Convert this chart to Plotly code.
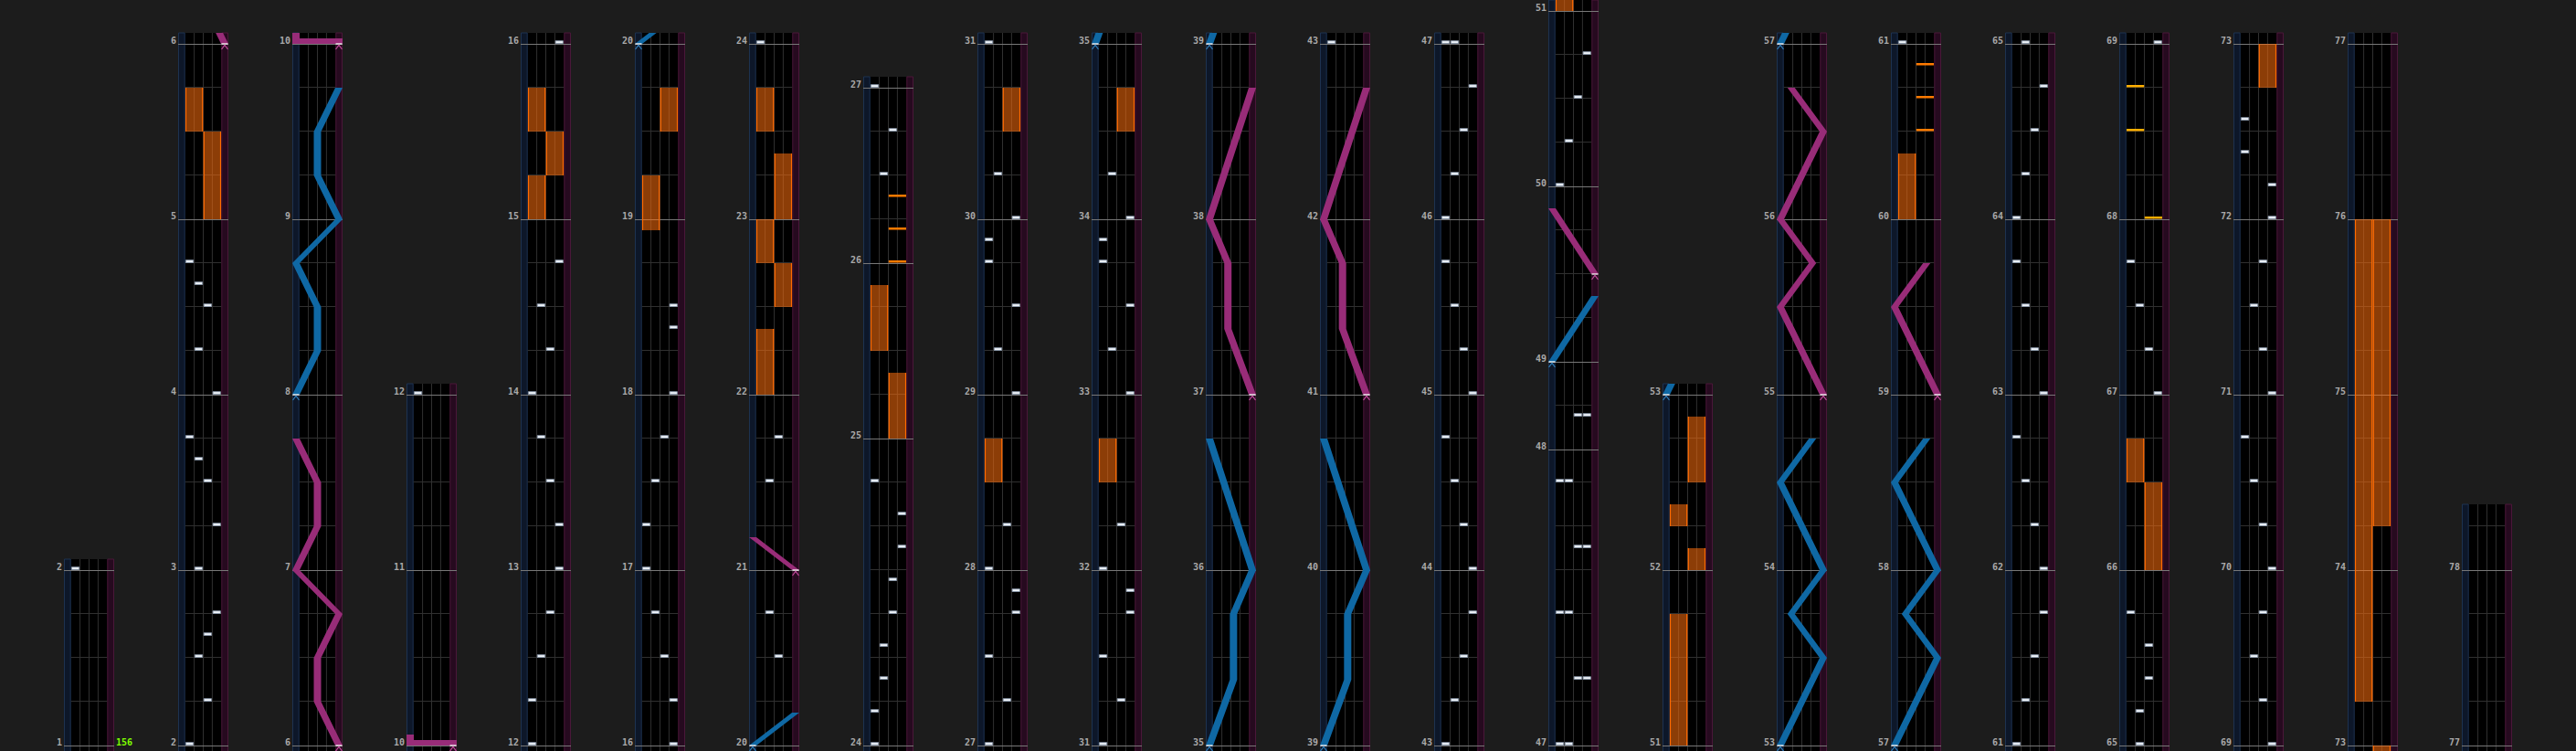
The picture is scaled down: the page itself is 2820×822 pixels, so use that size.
import plotly.graph_objects as go

# ---------------- data ----------------
MEASURE_BEATS = {24: 7, 47: 6.75, 48: 2}          # non-4/4 measures (length in beats)
COL_FIRST = [1, 2, 6, 10, 12, 16, 20, 24, 27, 31, 35, 39, 43, 47, 51, 53, 57, 61, 65, 69, 73, 77]
COL_END   = [2, 6, 10, 12, 16, 20, 24, 27, 31, 35, 39, 43, 47, 51, 53, 57, 61, 65, 69, 73, 77, 78]
LAST_TAIL_BEATS = 1.5

BPM_MEASURES = [1]
BPM_LABELS = ['156']

# (measure, beat within measure, lane 0..3)
BT_NOTES = [
    (2, 0, 0), (2, 1, 2), (2, 2, 1), (2, 2.5, 2), (2, 3, 3),
    (3, 0, 1), (3, 1, 3), (3, 2, 2), (3, 2.5, 1), (3, 3, 0),
    (4, 0, 3), (4, 1, 1), (4, 2, 2), (4, 2.5, 1), (4, 3, 0),
    (12, 0, 0), (12, 1, 0), (12, 2, 1), (12, 3, 2),
    (13, 0, 3), (13, 1, 3), (13, 2, 2), (13, 3, 1),
    (14, 0, 0), (14, 1, 2), (14, 2, 1), (14, 3, 3),
    (16, 0, 3), (16, 1, 3), (16, 2, 2), (16, 3, 1),
    (17, 0, 0), (17, 1, 0), (17, 2, 1), (17, 3, 2),
    (18, 0, 3), (18, 1.5, 3), (18, 2, 3),
    (20, 2, 2), (20, 3, 1), (21, 2, 1), (21, 3, 2),
    (24, 0, 0), (24, 0.75, 0), (24, 1.5, 1), (24, 2.25, 1), (24, 3, 2), (24, 3.75, 2),
    (24, 4.5, 3), (24, 5.25, 3), (24, 6, 0),
    (26, 2, 1), (26, 3, 2),
    (27, 0, 0), (27, 1, 2), (27, 2, 0), (27, 3, 3), (27, 3.5, 3),
    (28, 0, 0), (28, 1, 2),
    (29, 0, 3), (29, 1, 1), (29, 2, 3), (29, 3, 0), (29, 3.5, 0),
    (30, 0, 3), (30, 1, 1),
    (31, 0, 0), (31, 1, 2), (31, 2, 0), (31, 3, 3), (31, 3.5, 3),
    (32, 0, 0), (32, 1, 2),
    (33, 0, 3), (33, 1, 1), (33, 2, 3), (33, 3, 0), (33, 3.5, 0),
    (34, 0, 3), (34, 1, 1),
    (43, 0, 0), (43, 1, 1), (43, 2, 2), (43, 3, 3),
    (44, 0, 3), (44, 1, 2), (44, 2, 1), (44, 3, 0),
    (45, 0, 3), (45, 1, 2), (45, 2, 1), (45, 3, 0),
    (46, 0, 0), (46, 1, 1), (46, 2, 2), (46, 3, 3),
    (47, 0, 0), (47, 0, 1), (47, 1.5, 2), (47, 1.5, 3), (47, 3, 0), (47, 3, 1),
    (47, 4.5, 2), (47, 4.5, 3), (47, 6, 0), (47, 6, 1),
    (48, 0.75, 2), (48, 0.75, 3),
    (50, 0, 0), (50, 1, 1), (50, 2, 2), (50, 3, 3),
    (61, 0, 0), (61, 1, 1), (61, 2, 2), (61, 3, 3),
    (62, 0, 3), (62, 1, 2), (62, 2, 1), (62, 3, 0),
    (63, 0, 3), (63, 1, 2), (63, 2, 1), (63, 3, 0),
    (64, 0, 0), (64, 1, 1), (64, 2, 2), (64, 3, 3),
    (65, 0, 1), (65, 0.75, 1), (65, 1.5, 2), (65, 2.25, 2), (65, 3, 0),
    (67, 0, 3), (67, 1, 2), (67, 2, 1), (67, 3, 0),
    (69, 0, 3), (69, 1, 2), (69, 2, 1), (69, 3, 2),
    (70, 0, 3), (70, 1, 2), (70, 2, 1), (70, 3, 0),
    (71, 0, 3), (71, 1, 2), (71, 2, 1), (71, 3, 2),
    (72, 0, 3), (72, 0.75, 3), (72, 1.5, 0), (72, 2.25, 0),
]

# FX chips: (measure, beat, side 0=L 1=R)
FX_CHIPS = [(26, 0, 1), (26, 0.75, 1), (26, 1.5, 1), (60, 2, 1), (60, 2.75, 1), (60, 3.5, 1)]
FX_CHIPS_SE = [(68, 0, 1), (68, 2, 0), (68, 3, 0)]

# FX holds: (side, start measure, start beat, end measure, end beat)
FX_HOLDS = [
    (0, 5, 2, 5, 3), (1, 5, 0, 5, 2),
    (0, 15, 0, 15, 1), (1, 15, 1, 15, 2), (0, 15, 2, 15, 3),
    (0, 18, 3.75, 19, 1), (1, 19, 2, 19, 3),
    (0, 22, 0, 22, 1.5), (1, 22, 2, 22, 3), (0, 22, 3, 23, 0), (1, 23, 0, 23, 1.5), (0, 23, 2, 23, 3),
    (1, 25, 0, 25, 1.5), (0, 25, 2, 25, 3.5),
    (0, 28, 2, 28, 3), (1, 30, 2, 30, 3),
    (0, 32, 2, 32, 3), (1, 34, 2, 34, 3),
    (0, 51, 0, 51, 3), (1, 52, 0, 52, 0.5), (0, 52, 1, 52, 1.5), (1, 52, 2, 52, 3.5),
    (0, 60, 0, 60, 1.5),
    (1, 66, 0, 66, 2), (0, 66, 2, 66, 3),
    (1, 72, 3, 73, 0), (0, 73, 1, 76, 0), (1, 74, 1, 76, 0),
]

# lasers: list of (measure, beat, position 0..1)
LASERS_LEFT = [
    [(8, 0, 0), (8, 1, 0.5), (8, 2, 0.5), (8, 3, 0), (9, 0, 1), (9, 1, 0.5), (9, 2, 0.5), (9, 3, 1)],
    [(20, 0, 0), (20, 0.75, 1)],
    [(35, 0, 0), (35, 1.5, 0.56), (35, 3, 0.56), (36, 0, 1), (36, 3, 0)],
    [(39, 0, 0), (39, 1.5, 0.56), (39, 3, 0.56), (40, 0, 1), (40, 3, 0)],
    [(49, 0, 0), (49, 1.5, 1)],
    [(53, 0, 0), (53, 2, 1), (53, 3, 0.25), (54, 0, 1), (54, 2, 0), (54, 3, 0.75)],
    [(57, 0, 0), (57, 2, 1), (57, 3, 0.25), (58, 0, 1), (58, 2, 0), (58, 3, 0.75)],
]
LASERS_RIGHT = [
    [(6, 0, 1), (6, 1, 0.5), (6, 2, 0.5), (6, 3, 1), (7, 0, 0), (7, 1, 0.5), (7, 2, 0.5), (7, 3, 0)],
    [(10, 0, 1), (10, 0, 0), (10, 0.25, 0)],
    [(21, 0, 1), (21, 0.75, 0)],
    [(37, 0, 1), (37, 1.5, 0.43), (37, 3, 0.43), (38, 0, 0), (38, 3, 1)],
    [(41, 0, 1), (41, 1.5, 0.44), (41, 3, 0.44), (42, 0, 0), (42, 3, 1)],
    [(49, 2, 1), (49, 3.5, 0)],
    [(55, 0, 1), (55, 2, 0), (55, 3, 0.75), (56, 0, 0), (56, 2, 1), (56, 3, 0.25)],
    [(59, 0, 1), (59, 2, 0), (59, 3, 0.75)],
]

# ---------------- layout constants ----------------
FIG_W, FIG_H = 2820, 822
PX_PER_BEAT = 48.0
Y_MIN = -6 / PX_PER_BEAT
Y_MAX = Y_MIN + FIG_H / PX_PER_BEAT
COL_X0, COL_STEP, COL_W = 70, 125, 55
LASER_LANE_W = 7.7
LANE_W = 9.9
LASER_HALF = 4.0
TOP_PAD = 0.25
SLAM_H = 0.125
PX = 1 / PX_PER_BEAT

BG = '#1c1c1c'
C_COL = '#000000'
C_LLANE, C_LLANE_EDGE = '#0d1729', '#1d3250'
C_RLANE, C_RLANE_EDGE = '#260a1f', '#4a1739'
C_GRID = '#303030'
C_MEASURE = '#787878'
C_LABEL = '#a9a9a9'
C_CHIP, C_CHIP_EDGE = '#eef3f8', '#8b9bb0'
C_FX = '#ff7a00'
C_FX_SE = '#ffae00'
C_HOLD, C_HOLD_EDGE = 'rgba(255,112,12,0.55)', '#ff6a00'
C_LASER = {'L': '#0f68a4', 'R': '#982c78'}
C_CARET = {'L': '#2f7db8', 'R': '#c24a9c'}
C_BPM = '#7fff00'

# measure start times
mstart = {}
acc = 0.0
for m in range(1, 90):
    mstart[m] = acc
    acc += MEASURE_BEATS.get(m, 4)


def T(m, b):
    return mstart[m] + b


shapes = []
annotations = []


def rect(x0, x1, y0, y1, fill, line=None, lw=0):
    d = dict(type='rect', xref='x', yref='y', x0=x0, x1=x1, y0=y0, y1=y1,
             fillcolor=fill, line=dict(width=lw, color=line or fill), layer='above')
    shapes.append(d)


def seg(x0, y0, x1, y1, color, w=1):
    shapes.append(dict(type='line', xref='x', yref='y', x0=x0, y0=y0, x1=x1, y1=y1,
                       line=dict(color=color, width=w), layer='above'))


def path(d, fill=None, line=None, lw=0):
    s = dict(type='path', xref='x', yref='y', path=d, layer='above',
             line=dict(width=lw, color=line or 'rgba(0,0,0,0)'))
    if fill:
        s['fillcolor'] = fill
    shapes.append(s)


def split_runs(pts):
    runs = [[pts[0]]]
    slams = []
    for a, b in zip(pts, pts[1:]):
        if abs(b[0] - a[0]) < 1e-9:
            slams.append((a[0], a[1], b[1]))
            runs.append([b])
        else:
            runs[-1].append(b)
    return [r for r in runs if len(r) > 1], slams


def clip_run(run, lo, hi):
    out = []
    for (t0, p0), (t1, p1) in zip(run, run[1:]):
        a, b = max(t0, lo), min(t1, hi)
        if a >= b:
            continue
        pa = p0 + (p1 - p0) * (a - t0) / (t1 - t0)
        pb = p0 + (p1 - p0) * (b - t0) / (t1 - t0)
        if not out or abs(out[-1][0] - a) > 1e-9:
            out.append((a, pa))
        out.append((b, pb))
    return out


ncol = len(COL_FIRST)
for c in range(ncol):
    L = COL_X0 + COL_STEP * c
    base = mstart[COL_FIRST[c]]
    end = mstart[COL_END[c]]
    hi = end + (LAST_TAIL_BEATS if c == ncol - 1 else TOP_PAD)
    lo = base + Y_MIN
    ytop = hi - base

    def cx(p):
        return L + LASER_HALF + (COL_W - 2 * LASER_HALF) * p

    def lane_x(k):
        return L + LASER_LANE_W + LANE_W * k

    # column body
    rect(L, L + COL_W, Y_MIN - 1, ytop, C_COL)
    rect(L + 0.5, L + LASER_LANE_W - 0.5, Y_MIN - 1, ytop, C_LLANE, C_LLANE_EDGE, 1)
    rect(L + COL_W - LASER_LANE_W + 0.5, L + COL_W - 0.5, Y_MIN - 1, ytop, C_RLANE, C_RLANE_EDGE, 1)
    for k in range(1, 4):
        seg(lane_x(k), Y_MIN - 1, lane_x(k), ytop, C_GRID, 1)
    # beat lines
    m = COL_FIRST[c]
    beat_ts = []
    while m < COL_END[c]:
        ln = MEASURE_BEATS.get(m, 4)
        k = 1
        while k < ln - 1e-9:
            beat_ts.append(mstart[m] + k)
            k += 1
        m += 1
    k = 1
    while end + k < hi - 1e-9:
        beat_ts.append(end + k)
        k += 1
    for t in beat_ts:
        y = t - base + 0.5 * PX
        seg(lane_x(0), y, lane_x(4), y, C_GRID, 1)
    # measure lines + labels
    for m in range(COL_FIRST[c], COL_END[c] + 1):
        y = mstart[m] - base
        seg(L, y - 0.5 * PX, L + COL_W, y - 0.5 * PX, C_MEASURE, 1)
        annotations.append(dict(x=L - 1.5, y=y, xref='x', yref='y', text='<b>%d</b>' % m,
                                showarrow=False, xanchor='right', yanchor='bottom', yshift=-3,
                                borderpad=0,
                                font=dict(family='DejaVu Sans Mono', size=10, color=C_LABEL)))
    for bm, bl in zip(BPM_MEASURES, BPM_LABELS):
        if COL_FIRST[c] <= bm < COL_END[c]:
            annotations.append(dict(x=L + COL_W + 1, y=mstart[bm] - base, xref='x', yref='y',
                                    text='<b>%s</b>' % bl, showarrow=False, xanchor='left',
                                    yanchor='bottom', yshift=-3, borderpad=0,
                                    font=dict(family='DejaVu Sans Mono', size=10, color=C_BPM)))

    # FX holds
    for side, m0, b0, m1, b1 in FX_HOLDS:
        t0, t1 = max(T(m0, b0), lo), min(T(m1, b1), hi)
        if t0 >= t1:
            continue
        x0 = lane_x(2 * side) + 0.3
        x1 = lane_x(2 * side + 2) - 0.3
        rect(x0, x1, t0 - base, t1 - base, C_HOLD)
        seg(x0 + 0.5, t0 - base, x0 + 0.5, t1 - base, C_HOLD_EDGE, 1.2)
        seg(x1 - 0.5, t0 - base, x1 - 0.5, t1 - base, C_HOLD_EDGE, 1.2)

    # BT chips
    for m, b, lane in BT_NOTES:
        t = T(m, b)
        if lo <= t <= hi:
            y = t - base
            rect(lane_x(lane) + 0.7, lane_x(lane + 1) - 0.9, y + 0.5 * PX, y + 3.3 * PX,
                 C_CHIP, C_CHIP_EDGE, 0.8)
    # FX chips
    for chips, col in ((FX_CHIPS, C_FX), (FX_CHIPS_SE, C_FX_SE)):
        for m, b, side in chips:
            t = T(m, b)
            if lo <= t <= hi:
                y = t - base
                rect(lane_x(2 * side) + 0.3, lane_x(2 * side + 2) - 0.3, y + 0.5 * PX, y + 3.0 * PX, col)

    # lasers
    for key, lasers in (('L', LASERS_LEFT), ('R', LASERS_RIGHT)):
        for laser in lasers:
            pts = [(T(m, b), p) for m, b, p in laser]
            runs, slams = split_runs(pts)
            for run in runs:
                cr = clip_run(run, lo, hi)
                if len(cr) < 2:
                    continue
                left = [(cx(p) - LASER_HALF, t - base) for t, p in cr]
                right = [(cx(p) + LASER_HALF, t - base) for t, p in cr][::-1]
                poly = left + right
                d = 'M ' + ' L '.join('%.3f,%.4f' % q for q in poly) + ' Z'
                path(d, fill=C_LASER[key])
            for t, p0, p1 in slams:
                if lo <= t <= hi:
                    xa = min(cx(p0), cx(p1)) - LASER_HALF
                    xb = max(cx(p0), cx(p1)) + LASER_HALF
                    rect(xa, xb, t - base, min(t + SLAM_H, hi) - base, C_LASER[key])
            # start marker
            t0, p0 = pts[0]
            if lo - 0.2 <= t0 <= hi:
                y = t0 - base
                x = cx(p0)
                seg(x - LASER_HALF + 0.5, y, x + LASER_HALF - 0.5, y, '#ffffff', 1.3)
                path('M %.3f,%.4f L %.3f,%.4f L %.3f,%.4f' % (x - 3.5, y - 6 * PX, x, y - 1.3 * PX,
                                                              x + 3.5, y - 6 * PX),
                     line=C_CARET[key], lw=1.2)

fig = go.Figure()
fig.add_trace(go.Scatter(x=[0, FIG_W], y=[Y_MIN, Y_MAX], mode='markers',
                         marker=dict(opacity=0), hoverinfo='skip', showlegend=False))
fig.update_layout(
    width=FIG_W, height=FIG_H, autosize=False,
    margin=dict(l=0, r=0, t=0, b=0, pad=0),
    paper_bgcolor=BG, plot_bgcolor=BG,
    xaxis=dict(range=[0, FIG_W], visible=False, fixedrange=True),
    yaxis=dict(range=[Y_MIN, Y_MAX], visible=False, fixedrange=True),
    shapes=shapes, annotations=annotations, showlegend=False,
)
fig.write_html("out.html", config={'displayModeBar': False, 'staticPlot': True},
               post_script="document.body.style.margin='0';document.body.style.background='%s';"
                           "document.body.style.overflow='hidden';" % BG)
